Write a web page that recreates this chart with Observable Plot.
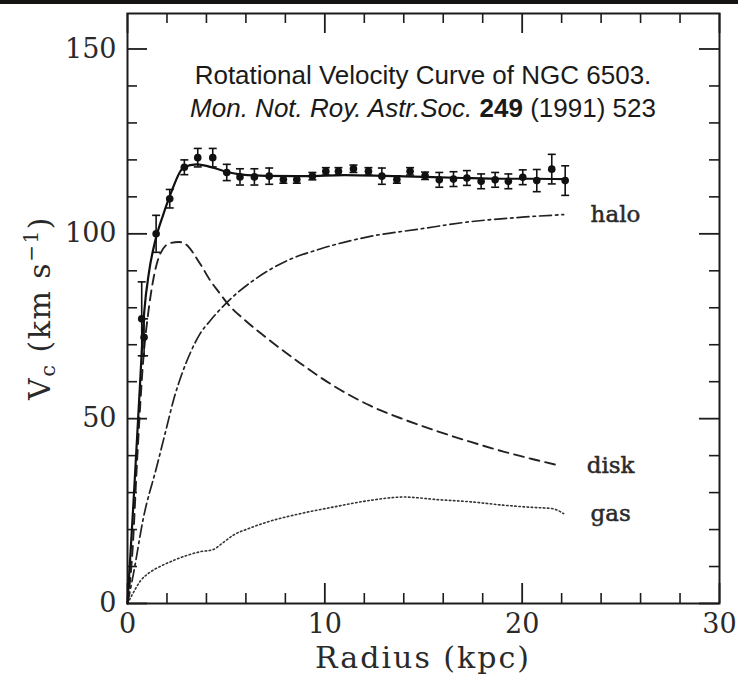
<!DOCTYPE html>
<html><head><meta charset="utf-8">
<script src="https://cdn.jsdelivr.net/npm/d3@7"></script>
<script src="https://cdn.jsdelivr.net/npm/@observablehq/plot@0.6"></script>
<style>
html,body{margin:0;padding:0;background:#fff;overflow:hidden;}
#band{height:4px;background:#161412;}
#chart svg{display:block;}
</style></head><body>
<div id="band"></div><div id="chart"></div>
<script>
// Observed rotation velocities (kpc, km/s, error)
const radius = [0.72,0.84,1.45,2.14,2.88,3.56,4.32,5.03,5.7,6.43,7.18,7.9,8.58,9.37,10.05,10.69,11.45,12.21,12.89,13.65,14.32,15.08,15.8,16.52,17.2,17.92,18.63,19.3,20.03,20.74,21.5,22.18];
const vObs   = [77,72,100,109.5,118,120.6,120.6,116.6,115.4,115.4,115.6,114.7,114.7,115.6,116.9,116.9,117.6,116.9,115.6,114.7,116.9,115.7,114.6,114.8,115.1,114.2,114.6,114.2,115.3,114.4,117.5,114.4];
const vErr   = [10,5,5,2.5,2,2.5,2.5,2.2,2.2,2.2,2.2,1,1,1,1,1,1,1,2.2,1,1,1,2,2,2,2,2,2,2,3,4,4];

// Model curves
const totalR = [0,0.3,0.6,0.85,1.1,1.4,1.8,2.2,2.85,3.5,4.4,5.0,5.7,7,9,11,13,15,17,19,20.5,22.2];
const totalV = [0,27,56,79,90,98,105,111,118,118.8,117.8,116.8,116.1,115.7,115.6,115.9,115.7,115.4,115.1,114.9,114.9,114.8];

const diskR = [0,0.25,0.5,0.8,1.06,1.32,1.65,2.16,2.6,2.92,3.68,4.19,4.69,5.03,6,7.06,8.75,10.44,12.3,14,15.7,17.4,19.05,20.5,21.9];
const diskV = [0,14,40,66,79,88,94.5,97.5,97.8,97.3,91.9,87.4,83.8,81.4,76.4,71.8,65,58.9,53.5,49.8,46.6,43.7,41.1,39.1,37.3];

const haloR = [0,0.3,0.8,1.48,2.0,2.33,2.75,3.2,3.68,4.19,5.03,6.38,8.07,9.76,12.3,14.8,17.4,20,22.1];
const haloV = [0,8,23,37,48,55,62,68,73,76.5,81.4,87.4,92.7,95.9,99.3,101.3,103.3,104.5,105.2];

const gasR = [0,0.22,0.64,1.15,1.65,2.4,3.0,3.68,4.35,4.8,5.37,6.2,7.06,8.75,10.44,12.3,14.0,15.7,17.4,19.05,20.5,21.5,22.1];
const gasV = [0,2.2,6,8.5,10,11.8,13,14,14.6,16.3,18.5,20.4,22,24.3,26.1,27.9,28.8,28.1,27.5,26.6,26,25.7,24.3];

const curveNames = ["halo","disk","gas"];

// Ticks
const xMajor = [0,10,20,30];
const xMinor = [2,4,6,8,12,14,16,18,22,24,26,28];
const yMajor = [0,50,100,150];
const yMinor = [10,20,30,40,60,70,80,90,110,120,130,140];

const titleLine1 = "Rotational Velocity Curve of NGC 6503.";
const journal = "Mon. Not. Roy. Astr.Soc.";
const volume = "249";
const yearPage = " (1991) 523";

// Build tables
const obs = radius.map((r,i)=>({r, v:vObs[i], e:vErr[i]}));
const toTable = (R,V) => R.map((r,i)=>({r, v:V[i]}));
const total = toTable(totalR,totalV);
const disk = toTable(diskR,diskV);
const halo = toTable(haloR,haloV);
const gas = toTable(gasR,gasV);
const series = {halo, disk, gas};
const labels = curveNames.map(n => ({name:n, ...series[n][series[n].length-1]}));

const capSymbol = {draw(ctx, size){ const w = Math.sqrt(size)/2; ctx.moveTo(-w,0); ctx.lineTo(w,0); }};

const W = 738, H = 678;
const mT = 9, mB = 79, mL = 127, mR = 19;
const fh = H - mT - mB, fw = W - mL - mR;
const ink = "#1c1c1c";

const plot = Plot.plot({
  width: W, height: H,
  marginTop: mT, marginBottom: mB, marginLeft: mL, marginRight: mR,
  x: {domain:[0,30]},
  y: {domain:[0,159.6]},
  style: {background:"#fff", color: ink, fontFamily:"DejaVu Serif"},
  marks: [
    // inward ticks
    Plot.ruleX(xMinor, {insetTop: fh-10, stroke: ink, strokeWidth: 1.6}),
    Plot.ruleX(xMinor, {insetBottom: fh-10, stroke: ink, strokeWidth: 1.6}),
    Plot.ruleX(xMajor, {insetTop: fh-20, stroke: ink, strokeWidth: 1.8}),
    Plot.ruleX(xMajor, {insetBottom: fh-20, stroke: ink, strokeWidth: 1.8}),
    Plot.ruleY(yMinor, {insetRight: fw-10, stroke: ink, strokeWidth: 1.6}),
    Plot.ruleY(yMinor, {insetLeft: fw-10, stroke: ink, strokeWidth: 1.6}),
    Plot.ruleY(yMajor, {insetRight: fw-20, stroke: ink, strokeWidth: 1.8}),
    Plot.ruleY(yMajor, {insetLeft: fw-20, stroke: ink, strokeWidth: 1.8}),
    Plot.frame({stroke: ink, strokeWidth: 2}),
    Plot.axisX(xMajor, {tickSize:0, tickPadding:10, fontSize:27, fontFamily:"DejaVu Serif", fill:"#2a2a2a", label:null}),
    Plot.axisY(yMajor, {tickSize:0, tickPadding:11, fontSize:27, fontFamily:"DejaVu Serif", fill:"#2a2a2a", label:null}),
    // model curves
    Plot.line(gas, {x:"r", y:"v", stroke:"#333", strokeWidth:1.6, strokeDasharray:"1.5,2.6", curve:"monotone-x"}),
    Plot.line(halo, {x:"r", y:"v", stroke:"#222", strokeWidth:1.7, strokeDasharray:"12,4,2.5,4", curve:"monotone-x"}),
    Plot.line(disk, {x:"r", y:"v", stroke:"#222", strokeWidth:1.9, strokeDasharray:"10,6", curve:"monotone-x"}),
    Plot.line(total, {x:"r", y:"v", stroke:"#111", strokeWidth:2.2, curve:"monotone-x"}),
    // observations
    Plot.ruleX(obs, {x:"r", y1: d=>d.v-d.e, y2: d=>d.v+d.e, stroke:"#111", strokeWidth:1.6}),
    Plot.dot(obs, {x:"r", y: d=>d.v+d.e, symbol: capSymbol, r:4.5, stroke:"#111", strokeWidth:1.6, fill:"none"}),
    Plot.dot(obs, {x:"r", y: d=>d.v-d.e, symbol: capSymbol, r:4.5, stroke:"#111", strokeWidth:1.6, fill:"none"}),
    Plot.dot(obs, {x:"r", y:"v", r:3.8, fill:"#111", stroke:"none"}),
    // curve labels
    Plot.text(labels, {x:"r", y:"v", text:"name", dx:27, textAnchor:"start", lineAnchor:"middle", fontSize:23, fontWeight:"normal", fontFamily:"DejaVu Serif", fill:"#2a2a2a", stroke:"#2a2a2a", strokeWidth:0.5})
  ]
});

document.getElementById("chart").appendChild(plot);

const svg = d3.select(plot);
const xs = plot.scale("x");
const cx = xs.apply(15);

// Title annotation
svg.append("text")
  .attr("x", cx).attr("y", mT + 71)
  .attr("text-anchor","middle")
  .attr("font-family","Liberation Sans, Arial, sans-serif")
  .attr("font-size", 26).attr("fill","#1a1a1a")
  .text(titleLine1);
const t2 = svg.append("text")
  .attr("x", cx).attr("y", mT + 104)
  .attr("text-anchor","middle")
  .attr("font-family","Liberation Sans, Arial, sans-serif")
  .attr("font-size", 26).attr("fill","#1a1a1a");
t2.append("tspan").attr("font-style","italic").text(journal);
t2.append("tspan").text(" ");
t2.append("tspan").attr("font-weight","bold").text(volume);
t2.append("tspan").text(yearPage);

// X axis label
svg.append("text")
  .attr("x", mL + fw/2).attr("y", H - mB + 65)
  .attr("text-anchor","middle")
  .attr("font-family","DejaVu Serif").attr("font-size",30)
  .attr("letter-spacing","2px").attr("fill","#2a2a2a")
  .text("Radius (kpc)");

// Y axis label
const yl = svg.append("text")
  .attr("transform", `translate(50,${mT + fh/2}) rotate(-90)`)
  .attr("text-anchor","middle")
  .attr("font-family","DejaVu Serif").attr("font-size",30)
  .attr("letter-spacing","1.5px").attr("fill","#2a2a2a");
yl.append("tspan").text("V");
yl.append("tspan").attr("font-size",21).attr("dy",5).text("c");
yl.append("tspan").attr("dy",-5).text(" (km s");
yl.append("tspan").attr("font-size",20).attr("dy",-12).text("\u22121");
yl.append("tspan").attr("dy",12).text(")");
</script></body></html>
